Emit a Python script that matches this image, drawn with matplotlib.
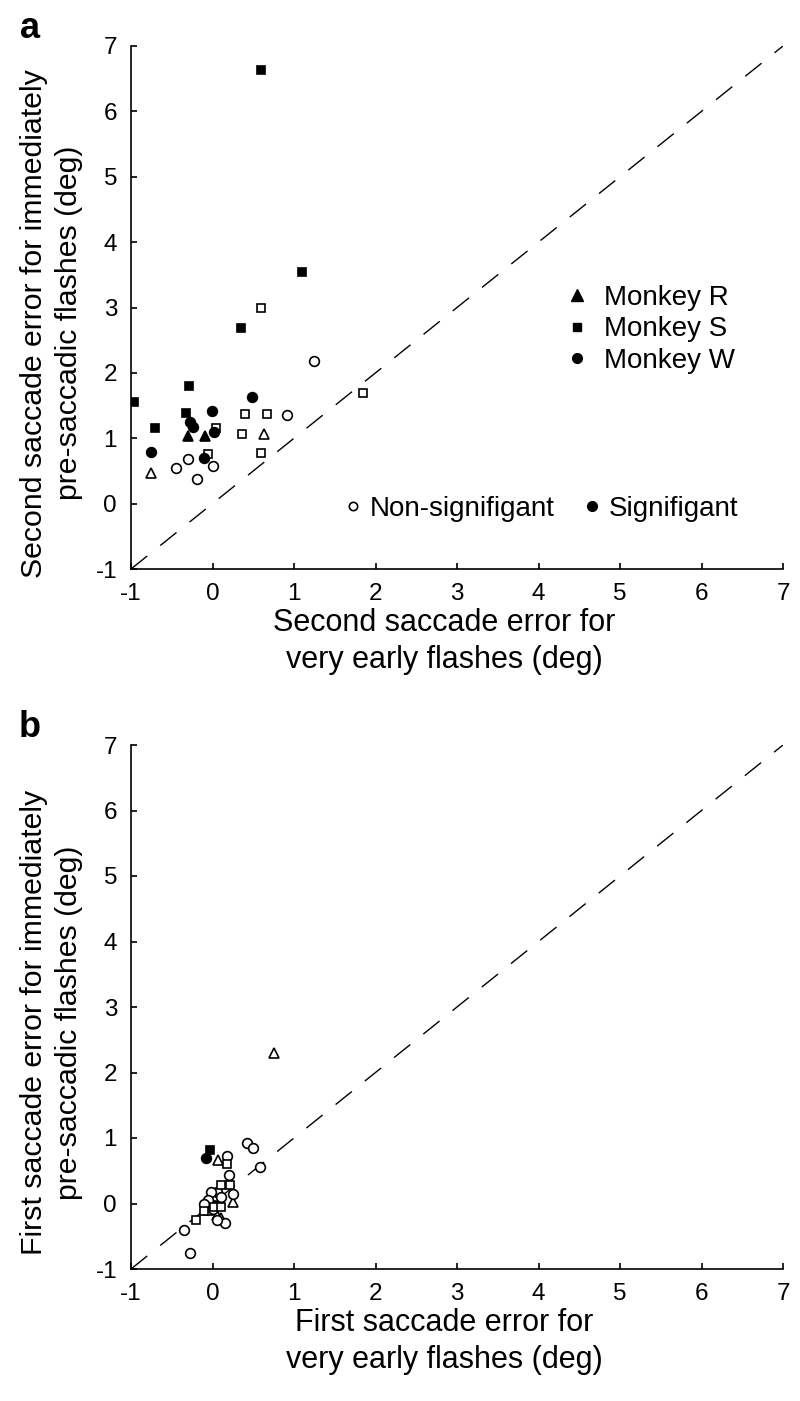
import matplotlib
matplotlib.use("Agg")
import matplotlib.pyplot as plt
from matplotlib.lines import Line2D

plt.rcParams['font.family'] = ['Liberation Sans', 'DejaVu Sans']
plt.rcParams['axes.unicode_minus'] = False

# panel a: second saccade error
a_x = [0.60, 1.10, 0.35, -0.29, -0.96, -0.32, -0.71,
       0.60, 1.85, 0.40, 0.67, 0.04, 0.36, -0.06, 0.60,
       0.49, -0.01, -0.28, -0.24, 0.02, -0.75, -0.10,
       1.24, 0.92, -0.30, -0.45, 0.00, -0.19,
       -0.30, -0.09,
       0.63, -0.76]
a_y = [6.64, 3.55, 2.69, 1.80, 1.56, 1.39, 1.16,
       3.00, 1.69, 1.37, 1.37, 1.16, 1.07, 0.76, 0.77,
       1.63, 1.42, 1.25, 1.17, 1.09, 0.79, 0.70,
       2.18, 1.35, 0.68, 0.55, 0.575, 0.37,
       1.03, 1.03,
       1.07, 0.47]
a_monkey = ['S'] * 15 + ['W'] * 13 + ['R'] * 4
a_sig = [1] * 7 + [0] * 8 + [1] * 7 + [0] * 6 + [1] * 2 + [0] * 2

# panel b: first saccade error
b_x = [0.75, 0.07, 0.25, 0.05, -0.05, 0.10,
       -0.03, 0.03,
       -0.08,
       0.42, 0.50, 0.18, 0.58, 0.20, 0.25, 0.05, -0.02, 0.10, -0.05,
       0.15, -0.35, -0.27, 0.05, -0.10, 0.00,
       0.18, 0.22, 0.10, -0.20, -0.10, 0.02, 0.10]
b_y = [2.30, 0.67, 0.02, -0.18, -0.10, -0.22,
       0.82, -0.03,
       0.69,
       0.93, 0.85, 0.72, 0.56, 0.44, 0.15, 0.18, 0.17, 0.10, 0.05,
       -0.30, -0.40, -0.75, -0.25, 0.00, -0.08,
       0.60, 0.28, 0.28, -0.25, -0.12, -0.05, -0.05]
b_monkey = ['R'] * 6 + ['S'] * 2 + ['W'] + ['W'] * 16 + ['S'] * 7
b_sig = [0] * 6 + [1] * 2 + [1] + [0] * 16 + [0] * 7

ticks = [-1, 0, 1, 2, 3, 4, 5, 6, 7]
markers = {'R': '^', 'S': 's', 'W': 'o'}
sizes = {'R': 7.5, 'S': 6, 'W': 7}
monkey_names = ['Monkey R', 'Monkey S', 'Monkey W']

fig = plt.figure(figsize=(8, 14.01), dpi=100)
ax_a = fig.add_axes([131 / 800, 1 - 569 / 1401, 652 / 800, 523 / 1401])
ax_b = fig.add_axes([131 / 800, 1 - 1269 / 1401, 652 / 800, 524 / 1401])


def draw_panel(ax, xs, ys, monkeys, sigs, which):
    ax.plot([-1, 7], [-1, 7], color='black', lw=1.0, dashes=(15, 12), zorder=1)
    for x, y, m, s in zip(xs, ys, monkeys, sigs):
        ax.plot(x, y, marker=markers[m], ms=sizes[m], ls='none',
                mfc='black' if s else 'white', mec='black', mew=1.2, zorder=3)
    ax.set_xlim(-1, 7)
    ax.set_ylim(-1, 7)
    ax.set_xticks(ticks)
    ax.set_yticks(ticks)
    for side in ['top', 'right']:
        ax.spines[side].set_visible(False)
    for side in ['left', 'bottom']:
        ax.spines[side].set_linewidth(1.2)
    ax.tick_params(direction='in', length=4.5, width=1.2, labelsize=17.5)
    ax.tick_params(axis='x', pad=10)
    ax.tick_params(axis='y', pad=10)
    ax.set_xlabel(which + ' saccade error for\nvery early flashes (deg)',
                  fontsize=22, linespacing=1.3)
    ax.xaxis.set_label_coords(0.48, -0.075)
    ax.set_ylabel(which + ' saccade error for immediately\npre-saccadic flashes (deg)',
                  fontsize=21.8, linespacing=1.35)
    ax.yaxis.set_label_coords(-0.073, 0.47)


draw_panel(ax_a, a_x, a_y, a_monkey, a_sig, 'Second')
draw_panel(ax_b, b_x, b_y, b_monkey, b_sig, 'First')

# legends in panel a
monkey_handles = [Line2D([], [], ls='none', marker=markers[k], color='black',
                         ms={'R': 9, 'S': 6, 'W': 7}[k]) for k in 'RSW']
leg1 = ax_a.legend(monkey_handles, monkey_names, loc='center left',
                   bbox_to_anchor=(0.645, 0.458), frameon=False, fontsize=20,
                   handlelength=0.8, handletextpad=0.6, labelspacing=0.2,
                   borderpad=0)
ax_a.add_artist(leg1)
sig_handles = [Line2D([], [], ls='none', marker='o', mfc='white', mec='black', mew=1.2, ms=6),
               Line2D([], [], ls='none', marker='o', color='black', ms=7)]
ax_a.legend(sig_handles, ['Non-signifigant', 'Signifigant'], loc='center left',
            bbox_to_anchor=(0.306, 0.115), frameon=False, fontsize=20, ncol=2,
            handlelength=0.6, handletextpad=0.3, columnspacing=1.05, borderpad=0)

fig.text(30 / 800, 1 - 38 / 1401, 'a', fontsize=26, fontweight='bold',
         ha='center', va='baseline')
fig.text(30 / 800, 1 - 737 / 1401, 'b', fontsize=26, fontweight='bold',
         ha='center', va='baseline')

fig.savefig('out.png', dpi=100)
